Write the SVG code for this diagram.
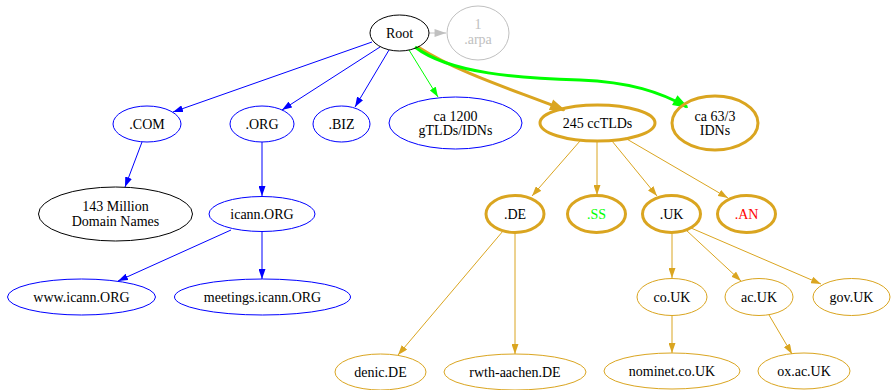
<svg xmlns="http://www.w3.org/2000/svg" width="891" height="390" viewBox="0 0 891 390">
<style>
text{font-family:'Liberation Serif','DejaVu Serif','Times New Roman',serif;font-size:14px;text-anchor:middle;fill:#000}
.n{fill:none;stroke-width:1}
.blue{stroke:#0000ff}
.blk{stroke:#000}
.gold{stroke:#daa520}
.gold3{stroke:#daa520;stroke-width:3}
.gray{stroke:#c0c0c0}
.e{fill:none}
</style>
<defs>
<marker id="mb" viewBox="0 0 10 7" refX="10" refY="3.5" markerWidth="10" markerHeight="7" markerUnits="userSpaceOnUse" orient="auto"><path d="M0,0L10,3.5L0,7z" fill="#0000ff"/></marker>
<marker id="mg" viewBox="0 0 10 7" refX="10" refY="3.5" markerWidth="10" markerHeight="7" markerUnits="userSpaceOnUse" orient="auto"><path d="M0,0L10,3.5L0,7z" fill="#daa520"/></marker>
<marker id="mgr" viewBox="0 0 10 7" refX="10" refY="3.5" markerWidth="10" markerHeight="7" markerUnits="userSpaceOnUse" orient="auto"><path d="M0,0L10,3.5L0,7z" fill="#00ff00"/></marker>
<marker id="my" viewBox="0 0 10 7" refX="10" refY="3.5" markerWidth="12" markerHeight="8" markerUnits="userSpaceOnUse" orient="auto"><path d="M0,0L10,3.5L0,7z" fill="#c0c0c0"/></marker>
<marker id="mg3" viewBox="-1 -1 12 9" refX="10" refY="3.5" markerWidth="16" markerHeight="12" markerUnits="userSpaceOnUse" orient="auto"><path d="M0,0L10,3.5L0,7z" fill="#daa520" stroke="#daa520" stroke-width="1"/></marker>
<marker id="mgr3" viewBox="-1 -1 12 9" refX="10" refY="3.5" markerWidth="16" markerHeight="12" markerUnits="userSpaceOnUse" orient="auto"><path d="M0,0L10,3.5L0,7z" fill="#00ff00" stroke="#00ff00" stroke-width="1"/></marker>
</defs>
<rect width="891" height="390" fill="#fff"/>
<g id="connectors">
<path class="e" d="M429,33L446,33" stroke="#c0c0c0" marker-end="url(#my)"/>
<path class="e" d="M372,42L173,112" stroke="#0000ff" marker-end="url(#mb)"/>
<path class="e" d="M380,47L282,110" stroke="#0000ff" marker-end="url(#mb)"/>
<path class="e" d="M389,50L355,107" stroke="#0000ff" marker-end="url(#mb)"/>
<path class="e" d="M409,50L438,97" stroke="#00ff00" marker-end="url(#mgr)"/>
<path class="e" d="M418,47C460,74 520,92 564,110" stroke="#daa520" stroke-width="3" marker-end="url(#mg3)"/>
<path class="e" d="M415,47C450,74 520,78 580,80C630,82 660,92 687,107" stroke="#00ff00" stroke-width="3" marker-end="url(#mgr3)"/>
<path class="e" d="M580,141L532,196" stroke="#daa520" marker-end="url(#mg)"/>
<path class="e" d="M597,141L597,195" stroke="#daa520" marker-end="url(#mg)"/>
<path class="e" d="M612,141L657,196" stroke="#daa520" marker-end="url(#mg)"/>
<path class="e" d="M625,138L728,198" stroke="#daa520" marker-end="url(#mg)"/>
<path class="e" d="M503,231L398,355" stroke="#daa520" marker-end="url(#mg)"/>
<path class="e" d="M515,233L515,354" stroke="#daa520" marker-end="url(#mg)"/>
<path class="e" d="M672,233L672,278" stroke="#daa520" marker-end="url(#mg)"/>
<path class="e" d="M686,230L741,281" stroke="#daa520" marker-end="url(#mg)"/>
<path class="e" d="M691,228L821,284" stroke="#daa520" marker-end="url(#mg)"/>
<path class="e" d="M672,316L672,353" stroke="#daa520" marker-end="url(#mg)"/>
<path class="e" d="M769,315L792,354" stroke="#daa520" marker-end="url(#mg)"/>
<path class="e" d="M142,142L125,187" stroke="#0000ff" marker-end="url(#mb)"/>
<path class="e" d="M262,142L262,196" stroke="#0000ff" marker-end="url(#mb)"/>
<path class="e" d="M231,230L118,281" stroke="#0000ff" marker-end="url(#mb)"/>
<path class="e" d="M262,231L262,279" stroke="#0000ff" marker-end="url(#mb)"/>
</g>
<g id="root"><ellipse class="n blk" cx="399.5" cy="33" rx="29.5" ry="18"/><text x="399.5" y="38">Root</text></g>
<g id="arpa"><ellipse class="n gray" cx="478" cy="33" rx="31" ry="27"/><text x="478" y="29" style="fill:#c0c0c0">1</text><text x="478" y="44" style="fill:#c0c0c0">.arpa</text></g>
<g id="com"><ellipse class="n blue" cx="147" cy="124" rx="34" ry="18"/><text x="147" y="129">.COM</text></g>
<g id="org"><ellipse class="n blue" cx="262" cy="124" rx="32" ry="18"/><text x="262" y="129">.ORG</text></g>
<g id="biz"><ellipse class="n blue" cx="341.5" cy="124" rx="28.5" ry="18"/><text x="341.5" y="129">.BIZ</text></g>
<g id="gtlds"><ellipse class="n blue" cx="455.5" cy="123" rx="66.5" ry="26"/><text x="455.5" y="121">ca 1200</text><text x="455.5" y="135">gTLDs/IDNs</text></g>
<g id="cctlds"><ellipse class="n gold3" cx="597.5" cy="123" rx="57.5" ry="18"/><text x="597.5" y="128">245 ccTLDs</text></g>
<g id="idns"><ellipse class="n gold3" cx="715" cy="123" rx="43" ry="27"/><text x="715" y="121">ca 63/3</text><text x="715" y="135">IDNs</text></g>
<g id="million"><ellipse class="n blk" cx="115.5" cy="214" rx="77" ry="27"/><text x="115.5" y="211">143 Million</text><text x="115.5" y="226">Domain Names</text></g>
<g id="icann"><ellipse class="n blue" cx="262" cy="214" rx="53" ry="17.5"/><text x="262" y="219">icann.ORG</text></g>
<g id="www"><ellipse class="n blue" cx="81.5" cy="297" rx="74" ry="18"/><text x="81.5" y="302">www.icann.ORG</text></g>
<g id="meetings"><ellipse class="n blue" cx="262.5" cy="297" rx="88" ry="18"/><text x="262.5" y="302">meetings.icann.ORG</text></g>
<g id="de"><ellipse class="n gold3" cx="515" cy="214" rx="29" ry="18.5"/><text x="515" y="219">.DE</text></g>
<g id="ss"><ellipse class="n gold3" cx="596.5" cy="214" rx="29" ry="18.5"/><text x="596.5" y="219" style="fill:#00ff00">.SS</text></g>
<g id="uk"><ellipse class="n gold3" cx="671.5" cy="214" rx="29" ry="18.5"/><text x="671.5" y="219">.UK</text></g>
<g id="an"><ellipse class="n gold3" cx="746.5" cy="214" rx="29" ry="18.5"/><text x="746.5" y="219" style="fill:#ff0000">.AN</text></g>
<g id="couk"><ellipse class="n gold" cx="672" cy="297" rx="35" ry="18.5"/><text x="672" y="302">co.UK</text></g>
<g id="acuk"><ellipse class="n gold" cx="759" cy="297" rx="34" ry="18.5"/><text x="759" y="302">ac.UK</text></g>
<g id="govuk"><ellipse class="n gold" cx="851.5" cy="297" rx="38.5" ry="18.5"/><text x="851.5" y="302">gov.UK</text></g>
<g id="nominet"><ellipse class="n gold" cx="672" cy="371" rx="68" ry="18"/><text x="672" y="376">nominet.co.UK</text></g>
<g id="ox"><ellipse class="n gold" cx="804" cy="371" rx="46" ry="18"/><text x="804" y="376">ox.ac.UK</text></g>
<g id="denic"><ellipse class="n gold" cx="380.5" cy="372" rx="45.5" ry="18"/><text x="380.5" y="377">denic.DE</text></g>
<g id="rwth"><ellipse class="n gold" cx="515" cy="372" rx="71" ry="18"/><text x="515" y="377">rwth-aachen.DE</text></g>
</svg>
